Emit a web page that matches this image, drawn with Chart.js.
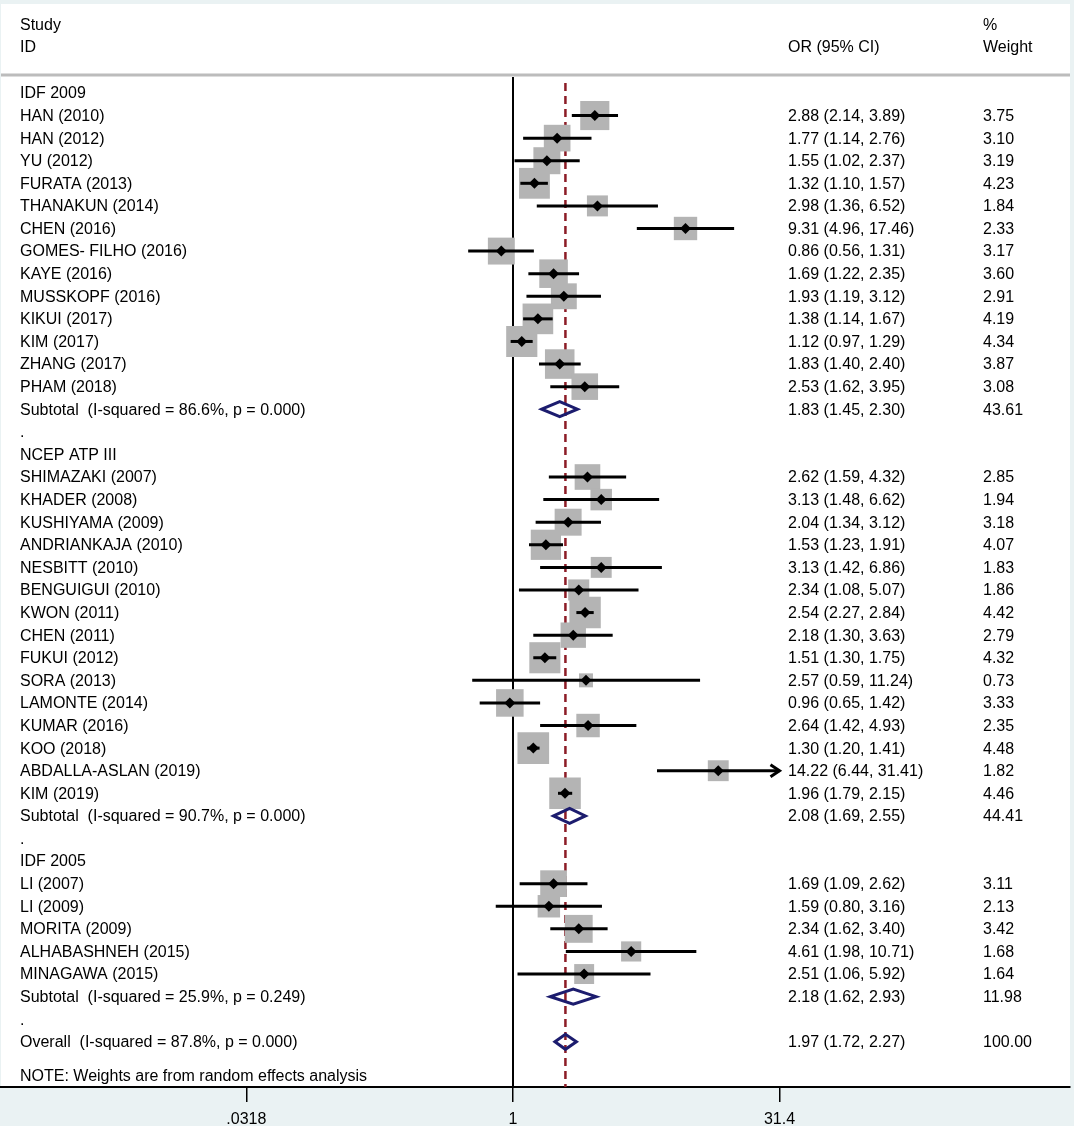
<!DOCTYPE html>
<html>
<head>
<meta charset="utf-8">
<title>Forest plot</title>
<script src="https://cdn.jsdelivr.net/npm/chart.js@4.4.1/dist/chart.umd.min.js"></script>
<style>
  html, body { margin: 0; padding: 0; background: #eaf2f3; }
  #wrap { width: 1074px; height: 1126px; }
</style>
</head>
<body>
<div id="wrap"><canvas id="forest" width="1074" height="1126"></canvas></div>
<script>
// one entry per row of the plot, top to bottom
const rowLabels = [
  'IDF 2009', 'HAN (2010)', 'HAN (2012)', 'YU (2012)', 'FURATA (2013)', 'THANAKUN (2014)',
  'CHEN (2016)', 'GOMES- FILHO (2016)', 'KAYE (2016)', 'MUSSKOPF (2016)', 'KIKUI (2017)',
  'KIM (2017)', 'ZHANG (2017)', 'PHAM (2018)', 'Subtotal  (I-squared = 86.6%, p = 0.000)', '.',
  'NCEP ATP III', 'SHIMAZAKI (2007)', 'KHADER (2008)', 'KUSHIYAMA (2009)', 'ANDRIANKAJA (2010)',
  'NESBITT (2010)', 'BENGUIGUI (2010)', 'KWON (2011)', 'CHEN (2011)', 'FUKUI (2012)', 'SORA (2013)',
  'LAMONTE (2014)', 'KUMAR (2016)', 'KOO (2018)', 'ABDALLA-ASLAN (2019)', 'KIM (2019)',
  'Subtotal  (I-squared = 90.7%, p = 0.000)', '.',
  'IDF 2005', 'LI (2007)', 'LI (2009)', 'MORITA (2009)', 'ALHABASHNEH (2015)', 'MINAGAWA (2015)',
  'Subtotal  (I-squared = 25.9%, p = 0.249)', '.',
  'Overall  (I-squared = 87.8%, p = 0.000)'
];
const rowKinds = [
  'group', 'study', 'study', 'study', 'study', 'study', 'study', 'study', 'study', 'study', 'study',
  'study', 'study', 'study', 'sub', 'gap',
  'group', 'study', 'study', 'study', 'study', 'study', 'study', 'study', 'study', 'study', 'study',
  'study', 'study', 'study', 'study', 'study', 'sub', 'gap',
  'group', 'study', 'study', 'study', 'study', 'study', 'sub', 'gap',
  'overall'
];
const orValues = [
  null, 2.88, 1.77, 1.55, 1.32, 2.98, 9.31, 0.86, 1.69, 1.93, 1.38, 1.12, 1.83, 2.53, 1.83, null,
  null, 2.62, 3.13, 2.04, 1.53, 3.13, 2.34, 2.54, 2.18, 1.51, 2.57, 0.96, 2.64, 1.30, 14.22, 1.96, 2.08, null,
  null, 1.69, 1.59, 2.34, 4.61, 2.51, 2.18, null,
  1.97
];
const ciLow = [
  null, 2.14, 1.14, 1.02, 1.10, 1.36, 4.96, 0.56, 1.22, 1.19, 1.14, 0.97, 1.40, 1.62, 1.45, null,
  null, 1.59, 1.48, 1.34, 1.23, 1.42, 1.08, 2.27, 1.30, 1.30, 0.59, 0.65, 1.42, 1.20, 6.44, 1.79, 1.69, null,
  null, 1.09, 0.80, 1.62, 1.98, 1.06, 1.62, null,
  1.72
];
const ciHigh = [
  null, 3.89, 2.76, 2.37, 1.57, 6.52, 17.46, 1.31, 2.35, 3.12, 1.67, 1.29, 2.40, 3.95, 2.30, null,
  null, 4.32, 6.62, 3.12, 1.91, 6.86, 5.07, 2.84, 3.63, 1.75, 11.24, 1.42, 4.93, 1.41, 31.41, 2.15, 2.55, null,
  null, 2.62, 3.16, 3.40, 10.71, 5.92, 2.93, null,
  2.27
];
const weightPct = [
  null, 3.75, 3.10, 3.19, 4.23, 1.84, 2.33, 3.17, 3.60, 2.91, 4.19, 4.34, 3.87, 3.08, 43.61, null,
  null, 2.85, 1.94, 3.18, 4.07, 1.83, 1.86, 4.42, 2.79, 4.32, 0.73, 3.33, 2.35, 4.48, 1.82, 4.46, 44.41, null,
  null, 3.11, 2.13, 3.42, 1.68, 1.64, 11.98, null,
  100.00
];
const noteText = 'NOTE: Weights are from random effects analysis';
const tickValues = [0.0318, 1, 31.4];
const tickLabels = ['.0318', '1', '31.4'];

const FAMILY = '"Liberation Sans", Arial, sans-serif';
const FONT = '16px ' + FAMILY;
const studyRows = rowKinds.map((k, i) => (k === 'study' ? i : -1)).filter(i => i >= 0);
const overallRow = rowKinds.indexOf('overall');
const noteRow = rowLabels.length + 0.5;

// box side grows with the square root of the weight
const boxSide = w => 2 + 14 * Math.sqrt(w);

// pixel layout of the log axis: 1 sits at x=513, 31.4 at x=779.5, plot runs x=1..1070
const pxPerLn = (779.5 - 513) / Math.log(31.4);
const axisMin = Math.exp((1 - 513) / pxPerLn);
const axisMax = Math.exp((1070 - 513) / pxPerLn);

const forestPlugin = {
  id: 'forest',
  beforeDraw(chart) {
    const c = chart.ctx, a = chart.chartArea;
    c.save();
    c.fillStyle = '#eaf2f3';
    c.fillRect(0, 0, chart.width, chart.height);
    c.fillStyle = '#ffffff';
    c.fillRect(a.left, 4, a.right - a.left, a.bottom - 4);
    // header rule
    c.strokeStyle = '#bcbcbc';
    c.lineWidth = 3;
    c.beginPath(); c.moveTo(a.left, 75); c.lineTo(a.right, 75); c.stroke();
    c.restore();
  },
  beforeDatasetsDraw(chart) {
    const c = chart.ctx, a = chart.chartArea, x = chart.scales.x;
    c.save();
    // no-effect line
    const x1 = x.getPixelForValue(1);
    c.strokeStyle = '#000';
    c.lineWidth = 2;
    c.beginPath(); c.moveTo(x1, a.top + 1); c.lineTo(x1, a.bottom); c.stroke();
    // overall estimate
    const xo = x.getPixelForValue(orValues[overallRow]);
    c.strokeStyle = '#8c1c26';
    c.lineWidth = 2.5;
    c.setLineDash([8, 5]);
    c.beginPath(); c.moveTo(xo, a.top + 7); c.lineTo(xo, a.bottom); c.stroke();
    c.restore();
  },
  afterDatasetDraw(chart, args) {
    if (args.index !== 1) return;   // after the grey boxes, before the point markers
    const c = chart.ctx, x = chart.scales.x, y = chart.scales.y;
    const lo = tickValues[0], hi = tickValues[tickValues.length - 1];
    c.save();
    c.strokeStyle = '#000';
    c.lineWidth = 3;
    studyRows.forEach(i => {
      const py = y.getPixelForValue(i);
      const xa = x.getPixelForValue(Math.max(ciLow[i], lo));
      const xb = x.getPixelForValue(Math.min(ciHigh[i], hi));
      c.beginPath(); c.moveTo(xa, py); c.lineTo(xb, py); c.stroke();
      if (ciHigh[i] > hi) {
        c.beginPath();
        c.moveTo(xb - 9, py - 6); c.lineTo(xb, py); c.lineTo(xb - 9, py + 6);
        c.stroke();
      }
    });
    c.restore();
  },
  afterDatasetsDraw(chart) {
    const c = chart.ctx, x = chart.scales.x, y = chart.scales.y;
    c.save();
    c.strokeStyle = '#1c1c6e';
    c.lineWidth = 3;
    c.lineJoin = 'miter';
    rowKinds.forEach((k, i) => {
      if (k !== 'sub' && k !== 'overall') return;
      const py = y.getPixelForValue(i);
      const xa = x.getPixelForValue(ciLow[i]);
      const xm = x.getPixelForValue(orValues[i]);
      const xb = x.getPixelForValue(ciHigh[i]);
      c.beginPath();
      c.moveTo(xa, py); c.lineTo(xm, py - 7.5); c.lineTo(xb, py); c.lineTo(xm, py + 7.5);
      c.closePath();
      c.stroke();
    });
    c.restore();
  },
  afterDraw(chart) {
    const c = chart.ctx, y = chart.scales.y;
    const colStudy = 20, colOr = 788, colW = 983, dy = 1;
    c.save();
    c.font = FONT;
    c.fillStyle = '#000';
    c.textBaseline = 'middle';
    c.textAlign = 'left';
    c.fillText('Study', colStudy, 26);
    c.fillText('ID', colStudy, 48);
    c.fillText('OR (95% CI)', colOr, 48);
    c.fillText('%', colW, 26);
    c.fillText('Weight', colW, 48);
    rowLabels.forEach((lab, i) => {
      const py = y.getPixelForValue(i) + dy;
      c.fillText(lab, colStudy, py);
      if (orValues[i] !== null) {
        c.fillText(orValues[i].toFixed(2) + ' (' + ciLow[i].toFixed(2) + ', ' + ciHigh[i].toFixed(2) + ')', colOr, py);
        c.fillText(weightPct[i].toFixed(2), colW, py);
      }
    });
    c.fillText(noteText, colStudy, y.getPixelForValue(noteRow) + dy);
    c.restore();
  }
};

const points = studyRows.map(i => ({ x: orValues[i], y: i }));

new Chart(document.getElementById('forest'), {
  type: 'scatter',
  data: {
    datasets: [
      {
        label: 'OR',
        data: points,
        pointStyle: 'rectRot',
        pointRadius: 5.5,
        backgroundColor: '#000',
        borderWidth: 0,
        order: 1
      },
      {
        label: 'Weight',
        data: points,
        pointStyle: 'rect',
        pointRadius: studyRows.map(i => boxSide(weightPct[i]) / Math.SQRT2),
        backgroundColor: '#b4b4b4',
        borderWidth: 0,
        order: 2
      }
    ]
  },
  options: {
    responsive: false,
    animation: false,
    events: [],
    layout: { autoPadding: false, padding: { top: 76, left: 1, right: 4, bottom: 0 } },
    plugins: { legend: { display: false }, tooltip: { enabled: false } },
    scales: {
      x: {
        type: 'logarithmic',
        position: 'bottom',
        min: axisMin,
        max: axisMax,
        afterBuildTicks: scale => { scale.ticks = tickValues.map(v => ({ value: v })); },
        afterFit: scale => {
          scale.height = 39;
          scale.paddingLeft = 0;
          scale.paddingRight = 0;
        },
        ticks: {
          autoSkip: false,
          maxRotation: 0,
          padding: 8,
          color: '#000',
          font: { family: FAMILY, size: 16 },
          callback: (v, idx) => tickLabels[idx]
        },
        grid: { display: true, drawOnChartArea: false, drawTicks: true, tickLength: 15, color: '#000', lineWidth: 1.5 },
        border: { display: true, color: '#000', width: 2 }
      },
      y: {
        type: 'linear',
        display: false,
        reverse: true,
        min: -0.75,
        max: 44
      }
    }
  },
  plugins: [forestPlugin]
});
</script>
</body>
</html>
